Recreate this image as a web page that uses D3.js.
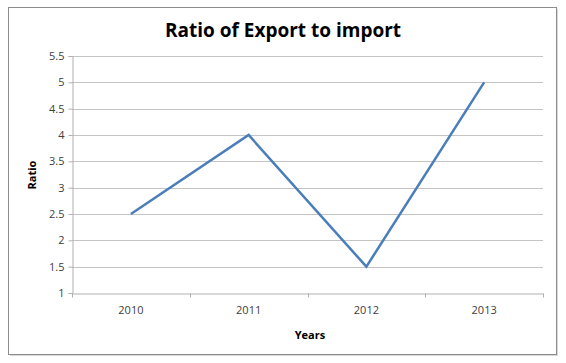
<!DOCTYPE html>
<html>
<head>
<meta charset="utf-8">
<script src="https://cdn.jsdelivr.net/npm/d3@7"></script>
<style>
  body { margin: 0; background: #fff; }
  svg { display: block; }
</style>
</head>
<body>
<div id="chart"></div>
<script>
const years = ['2010', '2011', '2012', '2013'];
const ratios = [2.5, 4, 1.5, 5];
const yTicks = [1, 1.5, 2, 2.5, 3, 3.5, 4, 4.5, 5, 5.5];

const width = 566, height = 363;
const plot = { left: 72, right: 543, top: 56, bottom: 293 };
const font = 'Open Sans, Liberation Sans, sans-serif';

const svg = d3.select('#chart').append('svg')
    .attr('width', width)
    .attr('height', height);

// chart frame with a little shadow
svg.append('rect')
    .attr('x', 10).attr('y', 9)
    .attr('width', 548).attr('height', 347)
    .attr('fill', '#d8d8d8');
svg.append('rect')
    .attr('x', 8.5).attr('y', 7.5)
    .attr('width', 548).attr('height', 347)
    .attr('fill', '#fff')
    .attr('stroke', '#8c8c8c')
    .attr('stroke-width', 1);

const x = d3.scaleBand()
    .domain(years)
    .range([plot.left, plot.right]);

const y = d3.scaleLinear()
    .domain([1, 5.5])
    .range([plot.bottom, plot.top]);

// gridlines
svg.append('g')
    .selectAll('line')
    .data(yTicks.filter(d => d > 1))
    .enter().append('line')
    .attr('x1', plot.left).attr('x2', plot.right)
    .attr('y1', d => Math.round(y(d)) + 0.5)
    .attr('y2', d => Math.round(y(d)) + 0.5)
    .attr('stroke', '#c4c4c4')
    .attr('stroke-width', 1);

// y axis
const yAxis = svg.append('g')
    .attr('transform', `translate(${plot.left + 0.5},0)`)
    .call(d3.axisLeft(y).tickValues(yTicks).tickSize(4).tickPadding(4)
        .tickFormat(d => String(d)));
yAxis.select('.domain').attr('stroke', '#b0b0b0');
yAxis.selectAll('.tick line').attr('stroke', '#b0b0b0');
yAxis.selectAll('text')
    .attr('font-family', font)
    .attr('font-size', 11)
    .attr('fill', '#404040');

// x axis with ticks on band boundaries
const xAxis = svg.append('g')
    .attr('transform', `translate(0,${Math.round(plot.bottom) + 0.5})`)
    .call(d3.axisBottom(x).tickSize(0).tickPadding(13));
xAxis.select('.domain').attr('stroke', '#b0b0b0');
xAxis.selectAll('text')
    .attr('font-family', font)
    .attr('font-size', 11)
    .attr('fill', '#404040');
const edges = [plot.left].concat(years.map(d => x(d) + x.bandwidth()));
xAxis.selectAll('line.sep')
    .data(edges)
    .enter().append('line')
    .attr('class', 'sep')
    .attr('x1', d => Math.round(d) + 0.5)
    .attr('x2', d => Math.round(d) + 0.5)
    .attr('y1', 0).attr('y2', 4)
    .attr('stroke', '#b0b0b0');

// the line
const line = d3.line()
    .x((d, i) => x(years[i]) + x.bandwidth() / 2)
    .y(d => y(d));

svg.append('path')
    .datum(ratios)
    .attr('d', line)
    .attr('fill', 'none')
    .attr('stroke', '#4a7ebb')
    .attr('stroke-width', 2.5)
    .attr('stroke-linejoin', 'miter');

// title and axis titles
svg.append('text')
    .attr('x', 283).attr('y', 37)
    .attr('text-anchor', 'middle')
    .attr('font-family', font)
    .attr('font-size', 19)
    .attr('font-weight', 'bold')
    .attr('fill', '#000')
    .text('Ratio of Export to import');

svg.append('text')
    .attr('x', 310).attr('y', 339)
    .attr('text-anchor', 'middle')
    .attr('font-family', font)
    .attr('font-size', 11)
    .attr('font-weight', 'bold')
    .attr('fill', '#000')
    .text('Years');

svg.append('text')
    .attr('transform', 'translate(36,175) rotate(-90)')
    .attr('text-anchor', 'middle')
    .attr('font-family', font)
    .attr('font-size', 11)
    .attr('font-weight', 'bold')
    .attr('fill', '#000')
    .text('Ratio');
</script>
</body>
</html>
